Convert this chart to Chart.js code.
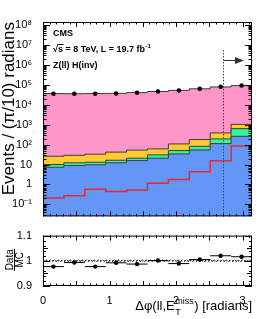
<!DOCTYPE html>
<html><head><meta charset="utf-8">
<script src="https://cdn.jsdelivr.net/npm/chart.js@4.4.1/dist/chart.umd.min.js"></script>
<style>
html,body{margin:0;padding:0;background:#fff;}
#wrap{position:relative;width:266px;height:319px;overflow:hidden;background:#fff;}
#c1{position:absolute;left:0;top:0;}
#c2{position:absolute;left:0;top:226px;}
</style></head><body>
<div id="wrap"><canvas id="c1" width="266" height="226"></canvas><canvas id="c2" width="266" height="93"></canvas></div>
<script>
// ---- data ----
const binEdges   = [0, 0.3142, 0.6283, 0.9425, 1.2566, 1.5708, 1.8850, 2.1991, 2.5133, 2.8274, 3.1416];
const dataCounts = [35500, 35500, 35500, 36700, 39800, 46200, 51900, 63100, 79400, 92300];
const zjets      = [36300, 35700, 36300, 37000, 40300, 46100, 52400, 62600, 77500, 89800]; // pink
const topWW      = [16, 16.8, 20, 25.6, 32.3, 30.5, 58, 96, 192, 405];                  // yellow
const wzYield    = [2.7, 3.3, 3.3, 4.2, 4.9, 9.8, 16, 28, 81, 370];                     // green
const zzYield    = [7.3, 8.9, 9.7, 12.2, 15.8, 20.7, 34, 54, 112, 260];                 // blue
const signalZH   = [0.21, 0.27, 0.58, 0.45, 0.52, 1.16, 1.78, 4.3, 15.3, 86];           // red line
const ratioVals  = [0.977, 0.993, 0.977, 0.992, 0.987, 1.001, 0.989, 1.005, 1.020, 1.016];
const mcUncLow   = [0.995, 0.995, 0.995, 0.995, 0.995, 0.995, 0.995, 0.995, 0.995, 0.995];
const mcUncHigh  = [1.005, 1.005, 1.005, 1.005, 1.005, 1.005, 1.005, 1.005, 1.005, 1.005];
const yTickValues = [0.1, 1, 10, 100, 1e3, 1e4, 1e5, 1e6, 1e7, 1e8];
const yTickLabels = ['10\u207B\u00B9', '1', '10', '10\u00B2', '10\u00B3', '10\u2074', '10\u2075', '10\u2076', '10\u2077', '10\u2078'];
const xTickValues = [0, 1, 2, 3];
const xTickLabels = ['0', '1', '2', '3'];
const ratioTickValues = [0.9, 1, 1.1];
const ratioTickLabels = ['0.9', '1', '1.1'];
const cutValue = 2.7;

const FONT = "'Liberation Sans', Arial, Helvetica, sans-serif";
Chart.defaults.font.family = FONT;
Chart.defaults.color = '#000';

function steps(vals){
  const pts = vals.map((v,i)=>({x:binEdges[i], y:v}));
  pts.push({x:binEdges[vals.length], y:vals[vals.length-1]});
  return pts;
}
const centers = binEdges.slice(0,-1).map((e,i)=>(e+binEdges[i+1])/2);
const cumBlue   = zzYield.slice();
const cumGreen  = cumBlue.map((v,i)=>v+wzYield[i]);
const cumYellow = cumGreen.map((v,i)=>v+topWW[i]);
const cumPink   = cumYellow.map((v,i)=>v+zjets[i]);

const histStyle = (fill, color)=>({type:'line', stepped:true, pointRadius:0, borderWidth:1,
  borderColor:'#3a3a3a', backgroundColor:color, fill:fill});

function drawXTicks(ctx, x, top, bottom, maj, mnr){
  for(let i=0;i<=31;i++){
    const px = Math.round(x.getPixelForValue(i/10))+0.5;
    const len = (i%5===0)?maj:mnr;
    ctx.beginPath();
    ctx.moveTo(px,bottom); ctx.lineTo(px,bottom-len);
    ctx.moveTo(px,top); ctx.lineTo(px,top+len);
    ctx.stroke();
  }
}

const mainDecor = {
  id:'mainDecor',
  afterDraw(chart){
    const {ctx, chartArea:{left,right,top,bottom}, scales:{x,y}} = chart;
    ctx.save();
    // cut line
    const xc = Math.round(x.getPixelForValue(cutValue))+0.5;
    ctx.strokeStyle='#444'; ctx.lineWidth=1; ctx.setLineDash([1.5,1.5]);
    ctx.beginPath(); ctx.moveTo(xc, y.getPixelForValue(5.6e6)); ctx.lineTo(xc, bottom); ctx.stroke();
    ctx.setLineDash([]);
    // arrow
    const ya = Math.round(y.getPixelForValue(1.8e6))+0.5;
    const xe = x.getPixelForValue(3.02);
    ctx.strokeStyle='#333';
    ctx.beginPath(); ctx.moveTo(xc, ya); ctx.lineTo(xe-8, ya); ctx.stroke();
    ctx.fillStyle='#333';
    ctx.beginPath(); ctx.moveTo(xe, ya); ctx.lineTo(xe-9, ya-3.5); ctx.lineTo(xe-9, ya+3.5); ctx.closePath(); ctx.fill();
    // frame & ticks
    ctx.strokeStyle='#000'; ctx.lineWidth=1;
    ctx.strokeRect(left+0.5, top+0.5, right-left-1, bottom-top-1);
    drawXTicks(ctx, x, top, bottom, 5, 2.5);
    for(let e=-2;e<=8;e++){
      for(let m=1;m<=9;m++){
        const v = m*Math.pow(10,e);
        if(v<y.min||v>y.max) continue;
        const py = Math.round(y.getPixelForValue(v))+0.5;
        const len = m===1?7:3.5;
        ctx.beginPath();
        ctx.moveTo(left,py); ctx.lineTo(left+len,py);
        ctx.moveTo(right,py); ctx.lineTo(right-len,py);
        ctx.stroke();
      }
    }
    // texts
    ctx.fillStyle='#000'; ctx.textAlign='left'; ctx.textBaseline='alphabetic';
    const tx = left+10;
    ctx.font='bold 9px '+FONT;
    ctx.fillText('CMS', tx, 36);
    const s1 = '\u221As = 8 TeV, L = 19.7 fb';
    ctx.fillText(s1, tx, 51.5);
    const wr = ctx.measureText('\u221A').width, ws = ctx.measureText('s').width;
    ctx.beginPath(); ctx.moveTo(tx+wr-0.5, 44.5); ctx.lineTo(tx+wr+ws+0.5, 44.5); ctx.stroke();
    const w1 = ctx.measureText(s1).width;
    ctx.font='bold 6px '+FONT;
    ctx.fillText('-1', tx+w1+0.5, 47.5);
    ctx.font='bold 9px '+FONT;
    ctx.fillText('Z(ll) H(inv)', tx, 67.5);
    ctx.restore();
  }
};

new Chart(document.getElementById('c1'), {
  data:{datasets:[
    {type:'line', data:centers.map((c,i)=>({x:c,y:dataCounts[i]})), showLine:false,
     pointRadius:2.3, pointBackgroundColor:'#000', pointBorderWidth:0},
    {type:'line', data:steps(signalZH), stepped:true, pointRadius:0, borderWidth:1.5, borderColor:'#e8282d', fill:false},
    Object.assign({data:steps(cumBlue)}, histStyle('start','#6496f8')),
    Object.assign({data:steps(cumGreen)}, histStyle('-1','#38f49a')),
    Object.assign({data:steps(cumYellow)}, histStyle('-1','#ffcb33')),
    Object.assign({data:steps(cumPink)}, histStyle('-1','#ff96c8'))
  ]},
  options:{
    responsive:false, animation:false, events:[],
    layout:{padding:{top:22,right:14,bottom:9,left:0}},
    plugins:{legend:{display:false}, tooltip:{enabled:false}},
    scales:{
      x:{type:'linear', min:0, max:Math.PI, display:false},
      y:{type:'logarithmic', min:0.025, max:1.41e8,
         afterFit:s=>{s.width=43;},
         afterBuildTicks:s=>{s.ticks=yTickValues.map(v=>({value:v}));},
         grid:{display:false}, border:{display:false},
         ticks:{callback:v=>yTickLabels[yTickValues.indexOf(v)], font:{size:11}, color:'#000', padding:3, autoSkip:false, maxRotation:0},
         title:{display:true, text:'Events / (\u03C0/10) radians', align:'end', font:{size:17}, color:'#000', padding:{top:-1,bottom:0}}}
    }
  },
  plugins:[mainDecor]
});

// ---- ratio panel ----
const pat = document.createElement('canvas'); pat.width=4; pat.height=4;
const pc = pat.getContext('2d'); pc.strokeStyle='#666'; pc.lineWidth=1;
pc.beginPath(); pc.moveTo(0,4); pc.lineTo(4,0); pc.stroke();
const hatch = pc.createPattern(pat,'repeat');

const errBars = [];
ratioVals.forEach((r,i)=>{ errBars.push({x:binEdges[i],y:r},{x:binEdges[i+1],y:r},{x:centers[i],y:null}); });

const ratioDecor = {
  id:'ratioDecor',
  afterDraw(chart){
    const {ctx, chartArea:{left,right,top,bottom}, scales:{x,y}} = chart;
    ctx.save();
    ctx.strokeStyle='#000'; ctx.lineWidth=1;
    ctx.strokeRect(left+0.5, top+0.5, right-left-1, bottom-top-1);
    drawXTicks(ctx, x, top, bottom, 5, 2.5);
    for(let i=0;i<=20;i++){
      if(i%2 && i%5) continue;
      const v = 0.9 + i*0.01;
      const py = Math.round(y.getPixelForValue(v))+0.5;
      const len = (i%10===0)?7:(i%5===0?5:3);
      ctx.beginPath();
      ctx.moveTo(left,py); ctx.lineTo(left+len,py);
      ctx.moveTo(right,py); ctx.lineTo(right-len,py);
      ctx.stroke();
    }
    // y title fraction Data/MC
    ctx.fillStyle='#000';
    ctx.translate(14.5, y.getPixelForValue(1.004));
    ctx.rotate(-Math.PI/2);
    ctx.font='10px '+FONT; ctx.textAlign='center'; ctx.textBaseline='alphabetic';
    ctx.fillText('Data', 0, -1.5);
    ctx.fillText('MC', 0, 8.5);
    ctx.beginPath(); ctx.moveTo(-11,0); ctx.lineTo(11,0); ctx.stroke();
    ctx.setTransform(1,0,0,1,0,0);
    // x title
    const base = 84;
    ctx.textAlign='left';
    const f1 = '13px '+FONT, f2 = '9px '+FONT;
    ctx.font=f1; const p1='\u0394\u03C6(ll,E', p3=') [radians]';
    const w1=ctx.measureText(p1).width, w3=ctx.measureText(p3).width;
    ctx.font=f2; const wsup=ctx.measureText('miss').width, wsub=ctx.measureText('T').width;
    const wmid=Math.max(wsup,wsub)+1;
    let xs = right - (w1+wmid+w3);
    ctx.font=f1; ctx.fillText(p1, xs, base);
    ctx.font=f2; ctx.fillText('miss', xs+w1+0.5, base-6.5); ctx.fillText('T', xs+w1+0.5, base+5);
    ctx.font=f1; ctx.fillText(p3, xs+w1+wmid, base);
    ctx.restore();
  }
};

new Chart(document.getElementById('c2'), {
  data:{datasets:[
    {type:'line', data:centers.map((c,i)=>({x:c,y:ratioVals[i]})), showLine:false,
     pointRadius:2.2, pointBackgroundColor:'#000', pointBorderWidth:0},
    {type:'line', data:errBars, spanGaps:false, pointRadius:0, borderWidth:1, borderColor:'#000', fill:false},
    {type:'line', data:[{x:0,y:1},{x:Math.PI,y:1}], pointRadius:0, borderWidth:1, borderColor:'#000', borderDash:[1.5,1.5], fill:false},
    {type:'line', data:steps(mcUncLow), stepped:true, pointRadius:0, borderWidth:0, fill:false},
    {type:'line', data:steps(mcUncHigh), stepped:true, pointRadius:0, borderWidth:0, fill:'-1', backgroundColor:hatch}
  ]},
  options:{
    responsive:false, animation:false, events:[],
    layout:{padding:{top:8,right:14,bottom:0,left:0}},
    plugins:{legend:{display:false}, tooltip:{enabled:false}},
    scales:{
      x:{type:'linear', min:0, max:Math.PI,
         afterFit:s=>{s.height=33;},
         afterBuildTicks:s=>{s.ticks=xTickValues.map(v=>({value:v}));},
         grid:{display:false}, border:{display:false},
         ticks:{callback:v=>xTickLabels[xTickValues.indexOf(v)], font:{size:11}, color:'#000', padding:0, autoSkip:false, maxRotation:0}},
      y:{type:'linear', min:0.9, max:1.1,
         afterFit:s=>{s.width=43;},
         afterBuildTicks:s=>{s.ticks=ratioTickValues.map(v=>({value:v}));},
         grid:{display:false}, border:{display:false},
         ticks:{callback:v=>ratioTickLabels[ratioTickValues.indexOf(v)], font:{size:11}, color:'#000', padding:3, autoSkip:false, maxRotation:0}}
    }
  },
  plugins:[ratioDecor]
});
</script>
</body></html>
